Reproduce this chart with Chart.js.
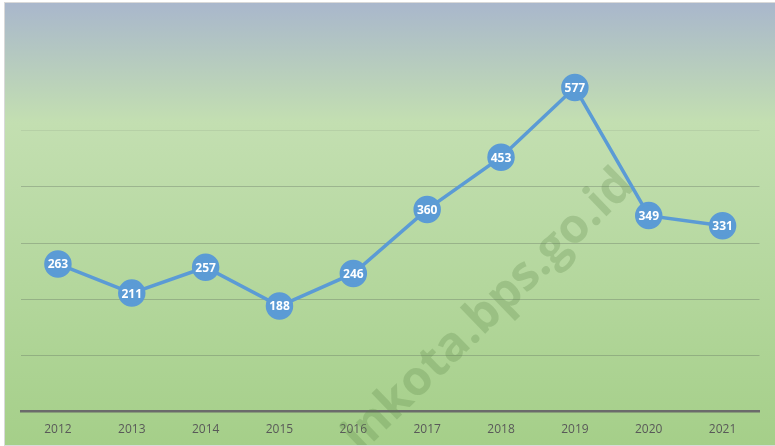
<!DOCTYPE html>
<html lang="id">
<head>
    <meta charset="UTF-8">
    <title>Grafik 2012-2021</title>
    <script src="https://cdn.jsdelivr.net/npm/chart.js"></script>
    <style>
        body { margin: 0; background: #fff; }
        .kotak {
            position: absolute; left: 4px; top: 2px;
            width: 770px; height: 442px;
            border: 1px solid #d9d9d9; border-right: none;
        }
    </style>
</head>
<body>
    <div class="kotak"><canvas id="grafik" width="770" height="442"></canvas></div>
    <script>
        const tahun = ['2012', '2013', '2014', '2015', '2016', '2017', '2018', '2019', '2020', '2021'];
        const nilai = [263, 211, 257, 188, 246, 360, 453, 577, 349, 331];
        const watermark = 'inkota.bps.go.id';

        // latar gradasi + watermark
        const latar = {
            id: 'latar',
            beforeDraw(chart) {
                const ctx = chart.ctx;
                const g = ctx.createLinearGradient(0, 0, 0, chart.height);
                g.addColorStop(0, '#a9b7cc');
                g.addColorStop(0.27, '#c3dfb1');
                g.addColorStop(1, '#a5cf89');
                ctx.save();
                ctx.fillStyle = g;
                ctx.fillRect(0, 0, chart.width, chart.height);
                ctx.restore();
            },
            beforeDatasetsDraw(chart) {
                const ctx = chart.ctx;
                ctx.save();
                ctx.translate(484, 308);
                ctx.rotate(-0.77);
                ctx.font = 'bold 48px "Open Sans"';
                ctx.fillStyle = 'rgba(90, 130, 70, 0.26)';
                ctx.textAlign = 'center';
                ctx.textBaseline = 'middle';
                ctx.fillText(watermark, 0, 0);
                ctx.restore();
            }
        };

        // angka di dalam titik
        const labelTitik = {
            id: 'labelTitik',
            afterDatasetsDraw(chart) {
                const ctx = chart.ctx;
                const meta = chart.getDatasetMeta(0);
                ctx.save();
                ctx.font = 'bold 12px "Open Sans"';
                ctx.fillStyle = '#fff';
                ctx.textAlign = 'center';
                ctx.textBaseline = 'middle';
                meta.data.forEach((p, i) => {
                    ctx.fillText(nilai[i], p.x, p.y + 1);
                });
                ctx.restore();
            }
        };

        new Chart(document.getElementById('grafik'), {
            type: 'line',
            data: {
                labels: tahun,
                datasets: [{
                    data: nilai,
                    borderColor: '#5b9bd5',
                    borderWidth: 3.5,
                    pointRadius: 12,
                    pointHoverRadius: 12,
                    pointBackgroundColor: '#5b9bd5',
                    pointBorderColor: '#5b9bd5',
                    tension: 0
                }]
            },
            options: {
                responsive: false,
                animation: false,
                layout: { padding: { left: 16, right: -4, top: 15, bottom: 5 } },
                plugins: { legend: { display: false }, tooltip: { enabled: false } },
                scales: {
                    x: {
                        offset: true,
                        grid: { display: false },
                        border: { color: '#6b6b6b', width: 2.5 },
                        ticks: { color: '#595959', font: { family: 'Open Sans', size: 12 }, padding: 3 }
                    },
                    y: {
                        min: 0, max: 700,
                        ticks: { display: false, stepSize: 100 },
                        border: { display: false },
                        grid: {
                            drawTicks: false,
                            color: c => c.tick.value >= 600 ? 'rgba(0,0,0,0)'
                                : c.tick.value === 500 ? 'rgba(95, 110, 95, 0.12)'
                                : 'rgba(95, 110, 95, 0.35)'
                        }
                    }
                }
            },
            plugins: [latar, labelTitik]
        });
    </script>
</body>
</html>
